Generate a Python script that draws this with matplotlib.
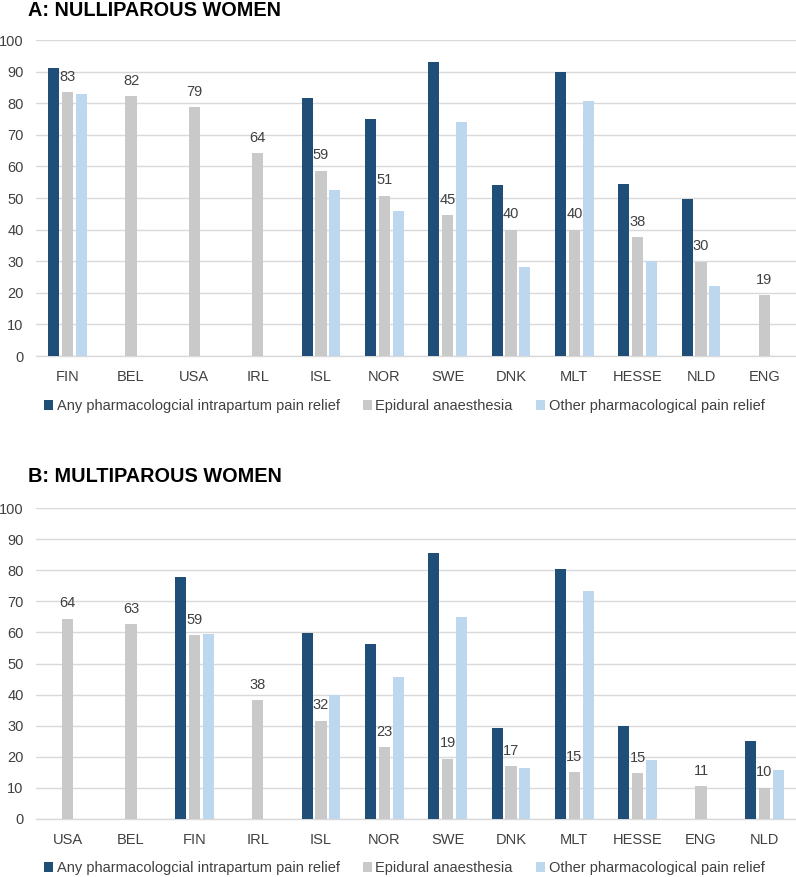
import numpy as np
import matplotlib
matplotlib.use('Agg')
import matplotlib.pyplot as plt

plt.rcParams['font.family'] = ['Liberation Sans', 'DejaVu Sans']

nan = np.nan

# Panel A: nulliparous women
paises_a = ['FIN', 'BEL', 'USA', 'IRL', 'ISL', 'NOR', 'SWE', 'DNK', 'MLT', 'HESSE', 'NLD', 'ENG']
any_a = [91.0, nan, nan, nan, 81.5, 74.9, 93.0, 54.1, 89.9, 54.4, 49.7, nan]
epi_a = [83.4, 82.3, 78.8, 64.1, 58.6, 50.7, 44.6, 40.0, 40.0, 37.7, 29.9, 19.3]
otra_a = [83.0, nan, nan, nan, 52.5, 45.9, 74.2, 28.2, 80.6, 30.0, 22.3, nan]

# Panel B: multiparous women
paises_b = ['USA', 'BEL', 'FIN', 'IRL', 'ISL', 'NOR', 'SWE', 'DNK', 'MLT', 'HESSE', 'ENG', 'NLD']
any_b = [nan, nan, 77.7, nan, 59.9, 56.4, 85.5, 29.4, 80.3, 29.9, nan, 25.2]
epi_b = [64.4, 62.6, 59.1, 38.2, 31.6, 23.2, 19.4, 17.0, 15.0, 14.8, 10.6, 10.1]
otra_b = [nan, nan, 59.5, nan, 39.9, 45.6, 64.8, 16.3, 73.2, 19.0, nan, 15.9]

series = ['Any pharmacologcial intrapartum pain relief', 'Epidural anaesthesia',
          'Other pharmacological pain relief']
colores = ['#1F4E79', '#C9C9C9', '#BDD7EE']
texto = '#404040'

fig = plt.figure(figsize=(7.96, 8.77), dpi=100)


def panel(rect, titulo, titulo_y, paises, vals, legend_y):
    ax = fig.add_axes(rect)
    x = np.arange(len(paises))
    ancho = 0.175
    offs = [-0.22, 0, 0.22]
    for i, v in enumerate(vals):
        ax.bar(x + offs[i], v, width=ancho, color=colores[i], label=series[i], zorder=3)
    # etiquetas sobre epidural
    for xi, v in zip(x, vals[1]):
        if not np.isnan(v):
            ax.annotate(f'{v:.0f}', (xi, v), xytext=(0, 6), textcoords='offset points',
                        ha='center', va='bottom', fontsize=10.5, color=texto)
    ax.set_xlim(-0.5, len(paises) - 0.5)
    ax.set_ylim(0, 100)
    ax.set_yticks(range(0, 101, 10))
    ax.set_xticks(x)
    ax.set_xticklabels(paises)
    ax.tick_params(length=0, labelsize=10.5, colors=texto)
    ax.tick_params(axis='y', pad=9)
    ax.tick_params(axis='x', pad=10)
    ax.grid(axis='y', color='#D9D9D9', linewidth=1, zorder=0)
    for s in ['top', 'right', 'left']:
        ax.spines[s].set_visible(False)
    ax.spines['bottom'].set_color('#D9D9D9')
    ax.spines['bottom'].set_linewidth(1)
    fig.text(28 / 796, titulo_y, titulo, fontsize=14.3, fontweight='bold', color='black',
             va='top', ha='left')
    h, l = ax.get_legend_handles_labels()
    fig.legend(h, l, loc='center', bbox_to_anchor=(0.508, legend_y), ncol=3, frameon=False,
               fontsize=10.5, handlelength=0.6, handleheight=0.7, handletextpad=0.25,
               columnspacing=1.6, labelcolor=texto, borderaxespad=0)
    return ax


panel([36 / 796, 1 - 356 / 877, 760 / 796, 316 / 877], 'A: NULLIPAROUS WOMEN', 1 - 1 / 877,
      paises_a, [any_a, epi_a, otra_a], 1 - 406 / 877)
panel([36 / 796, 1 - 819 / 877, 760 / 796, 311 / 877], 'B: MULTIPAROUS WOMEN', 1 - 467 / 877,
      paises_b, [any_b, epi_b, otra_b], 1 - 868 / 877)

plt.savefig('out.png', dpi=100)
plt.close()
